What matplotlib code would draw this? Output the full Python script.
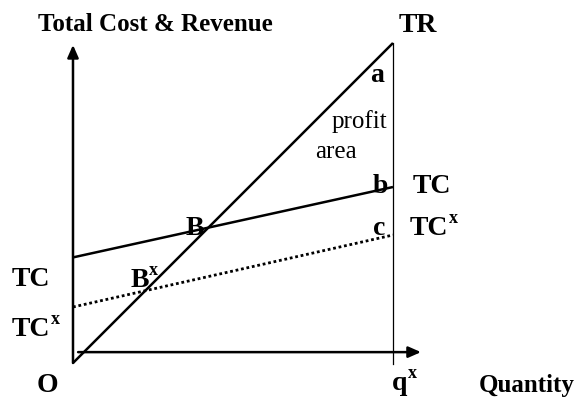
import matplotlib
matplotlib.use('Agg')
import matplotlib.pyplot as plt

# DATA #######################################################################

quantity = [0, 10]            # O .. q^x
total_revenue = [0, 10]       # TR
total_cost = [3.3, 5.5]       # TC
total_cost_x = [1.75, 4.0]    # TC^x (lower cost curve)
q_x = 10

# STYLE ######################################################################

plt.rcParams['font.family'] = ['Liberation Serif', 'DejaVu Serif']
LW = 1.8
BIG = 20
HEAD = '-|>,head_length=0.5,head_width=0.22'


def break_even(cost):
    # where the revenue line meets a cost line
    r_slope = (total_revenue[1] - total_revenue[0]) / (quantity[1] - quantity[0])
    c_slope = (cost[1] - cost[0]) / (quantity[1] - quantity[0])
    x = (cost[0] - total_revenue[0]) / (r_slope - c_slope)
    return x, total_revenue[0] + r_slope * x


def label(ax, x, y, main, sup=None, size=BIG, weight='bold'):
    t = ax.text(x, y, main, fontsize=size, fontweight=weight, va='baseline', ha='left')
    if sup:
        # superscript: x from the end of the main text, baseline raised
        ax.annotate(sup, xy=(1, y), xycoords=(t, 'data'),
                    xytext=(0.5, 0.43 * size), textcoords='offset points',
                    fontsize=size * 0.65, fontweight=weight,
                    va='baseline', ha='left')
    return t


# PLOT #######################################################################

fig = plt.figure(figsize=(5.76, 3.97), dpi=100)
ax = fig.add_axes([0, 0, 1, 1])
ax.set_xlim(-2.281, 15.719)
ax.set_ylim(-1.0625, 11.344)
ax.axis('off')

# axes with arrows
ax.annotate('', xy=(0, 9.94), xytext=(0, 0),
            arrowprops=dict(arrowstyle=HEAD, lw=LW, color='black',
                            mutation_scale=15, shrinkA=0, shrinkB=0))
ax.annotate('', xy=(10.875, 0.34), xytext=(0.16, 0.34),
            arrowprops=dict(arrowstyle=HEAD, lw=LW, color='black',
                            mutation_scale=15, shrinkA=0, shrinkB=0))

# q^x vertical
ax.plot([q_x, q_x], [-0.03, total_revenue[1]], color='black', lw=0.9)

# curves
ax.plot(quantity, total_revenue, color='black', lw=LW, solid_capstyle='butt')
ax.plot(quantity, total_cost, color='black', lw=LW, solid_capstyle='butt')
ax.plot(quantity, total_cost_x, color='black', lw=2.0, linestyle=(0, (1, 1)))

# labels
ax.text(2.56, 10.375, 'Total Cost & Revenue', fontsize=18, fontweight='bold',
        ha='center', va='baseline')
label(ax, 10.19, 10.34, 'TR')
label(ax, 9.28, 8.78, 'a')
label(ax, 8.09, 7.34, 'profit', size=18, weight='normal')
label(ax, 7.56, 6.41, 'area', size=18, weight='normal')
label(ax, 9.375, 5.31, 'b')
label(ax, 10.625, 5.31, 'TC')
label(ax, 9.375, 4.0, 'c')
label(ax, 10.53, 4.0, 'TC', 'x')

bx, by = break_even(total_cost)
label(ax, bx - 0.72, by - 0.22, 'B')
bxx, byx = break_even(total_cost_x)
label(ax, bxx - 0.47, byx + 0.13, 'B', 'x')

label(ax, -1.91, 2.41, 'TC')
label(ax, -1.91, 0.84, 'TC', 'x')
label(ax, -1.125, -0.91, 'O')
label(ax, 9.97, -0.84, 'q', 'x')
label(ax, 12.69, -0.91, 'Quantity', size=18)

fig.savefig('out.png', dpi=100)
